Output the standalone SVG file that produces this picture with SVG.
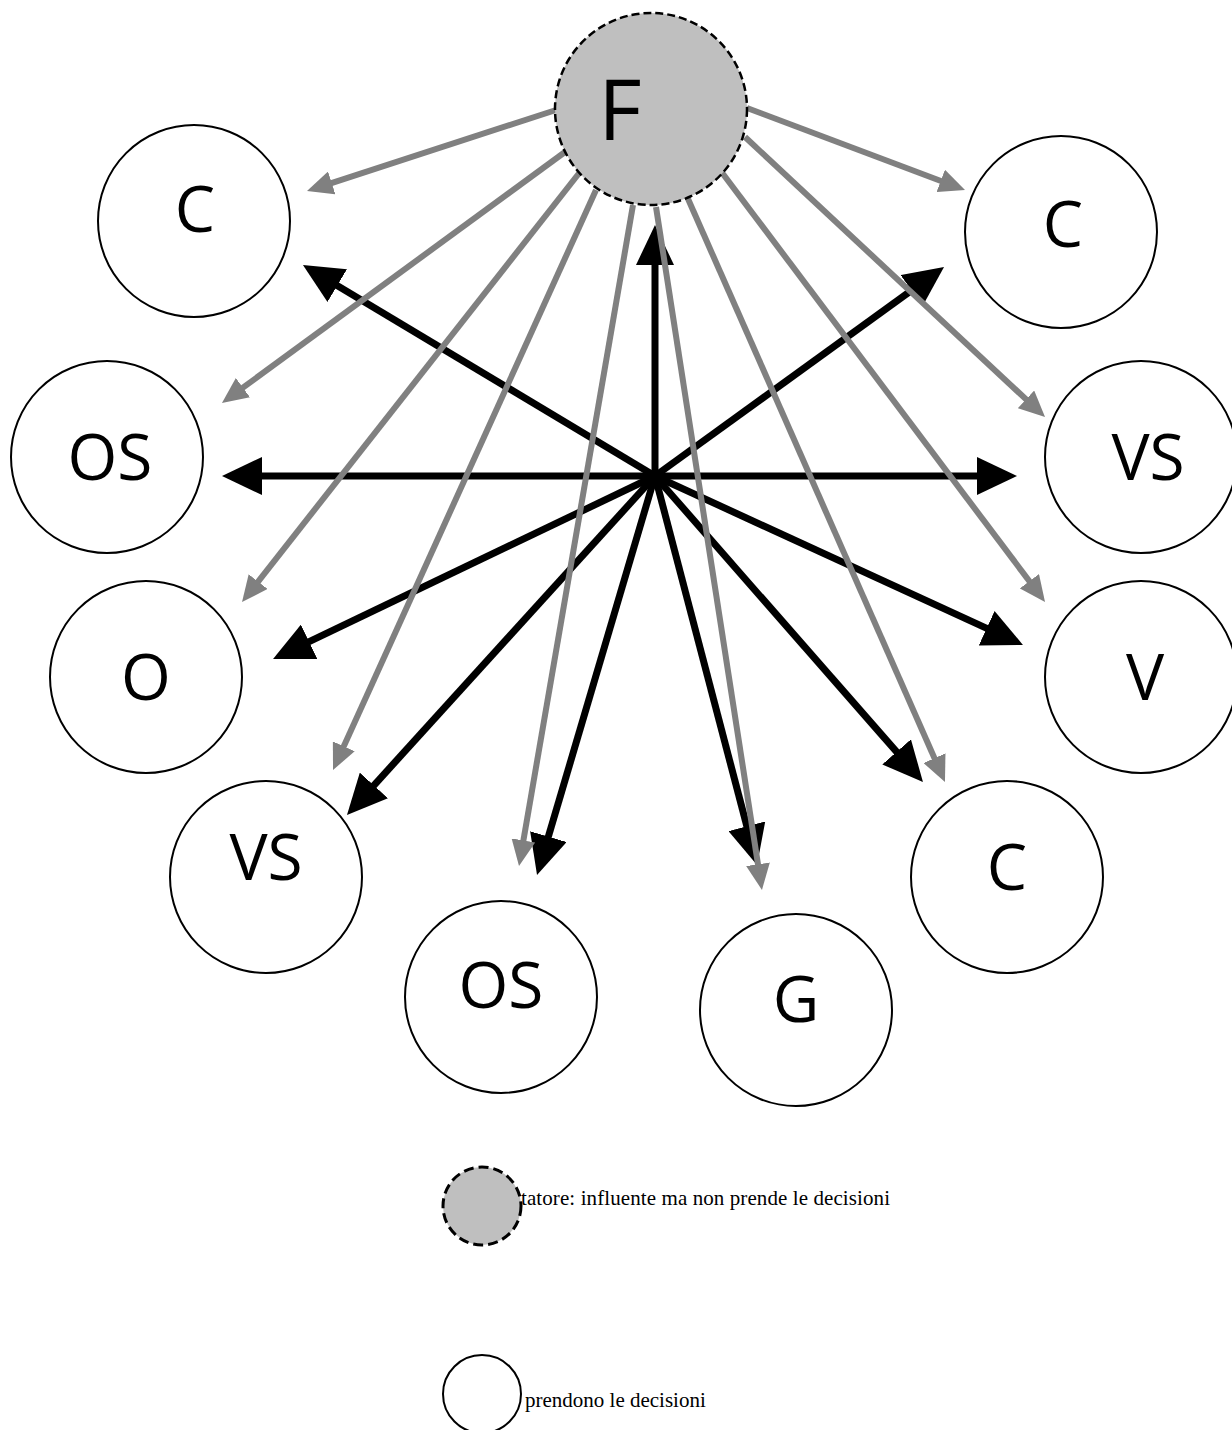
<svg xmlns="http://www.w3.org/2000/svg" width="1232" height="1430" viewBox="0 0 1232 1430">
  <style>
    .node { fill: #ffffff; stroke: #000000; stroke-width: 2; }
    .lead { fill: #bfbfbf; stroke: #000000; stroke-width: 2.5; stroke-dasharray: 8 4; }
    .lbl { font-family: "Open Sans", "Liberation Sans", sans-serif; font-size: 64px; fill: #000000; text-anchor: middle; }
    .big { font-size: 84px; }
    .key { font-family: "Liberation Serif", "Times New Roman", serif; font-size: 21px; fill: #000000; }
    .blk { stroke: #000000; stroke-width: 7; fill: none; marker-end: url(#headBlack); }
    .gry { stroke: #808080; stroke-width: 6; fill: none; marker-end: url(#headGray); }
  </style>
  <defs>
    <marker id="headBlack" markerUnits="userSpaceOnUse" viewBox="0 -19 40 38" markerWidth="40" markerHeight="38" refX="8" refY="0" orient="auto">
      <path d="M0,-19 L40,0 L0,19 z" fill="#000000"/>
    </marker>
    <marker id="headGray" markerUnits="userSpaceOnUse" viewBox="0 -12 26 24" markerWidth="26" markerHeight="24" refX="6" refY="0" orient="auto">
      <path d="M0,-12 L26,0 L0,12 z" fill="#808080"/>
    </marker>
  </defs>

  <!-- decision makers -->
  <g id="node-c-topleft"><circle class="node" cx="194" cy="221" r="96"/><text class="lbl" x="195" y="232">C</text></g>
  <g id="node-c-topright"><circle class="node" cx="1061" cy="232" r="96"/><text class="lbl" x="1063" y="247">C</text></g>
  <g id="node-os-left"><circle class="node" cx="107" cy="457" r="96"/><text class="lbl" x="110" y="480">OS</text></g>
  <g id="node-vs-right"><circle class="node" cx="1141" cy="457" r="96"/><text class="lbl" x="1148" y="480">VS</text></g>
  <g id="node-o"><circle class="node" cx="146" cy="677" r="96"/><text class="lbl" x="146" y="700">O</text></g>
  <g id="node-v"><circle class="node" cx="1141" cy="677" r="96"/><text class="lbl" x="1145" y="700">V</text></g>
  <g id="node-vs-bottomleft"><circle class="node" cx="266" cy="877" r="96"/><text class="lbl" x="266" y="880">VS</text></g>
  <g id="node-c-bottomright"><circle class="node" cx="1007" cy="877" r="96"/><text class="lbl" x="1007" y="890">C</text></g>
  <g id="node-os-bottom"><circle class="node" cx="501" cy="997" r="96"/><text class="lbl" x="501" y="1008">OS</text></g>
  <g id="node-g"><circle class="node" cx="796" cy="1010" r="96"/><text class="lbl" x="796" y="1022">G</text></g>

  <!-- connectors: black from the hub, gray from F -->
  <g id="connectors">
    <g id="hub-arrows">
      <line class="blk" x1="655" y1="476" x2="655" y2="257"/>
      <line class="blk" x1="655" y1="476" x2="330.4" y2="281.5"/>
      <line class="blk" x1="655" y1="476" x2="918.1" y2="285.7"/>
      <line class="blk" x1="655" y1="476" x2="254" y2="476"/>
      <line class="blk" x1="655" y1="476" x2="985" y2="476"/>
      <line class="blk" x1="655" y1="476" x2="301.9" y2="645.2"/>
      <line class="blk" x1="655" y1="476" x2="993.9" y2="631.6"/>
      <line class="blk" x1="655" y1="476" x2="368.5" y2="791.3"/>
      <line class="blk" x1="655" y1="476" x2="901.9" y2="757.9"/>
      <line class="blk" x1="655" y1="476" x2="546.1" y2="844.3"/>
      <line class="blk" x1="655" y1="476" x2="748.9" y2="834.0"/>
    </g>
    <g id="influence-arrows">
      <line class="gry" x1="556" y1="110" x2="326.0" y2="184.8"/>
      <line class="gry" x1="565" y1="152" x2="238.1" y2="391.2"/>
      <line class="gry" x1="580" y1="172" x2="254.4" y2="586.3"/>
      <line class="gry" x1="596" y1="190" x2="341.3" y2="751.8"/>
      <line class="gry" x1="633" y1="205" x2="522.4" y2="846.3"/>
      <line class="gry" x1="656" y1="207" x2="758.9" y2="870.2"/>
      <line class="gry" x1="685" y1="192" x2="936.9" y2="763.7"/>
      <line class="gry" x1="720" y1="170" x2="1033.0" y2="586.0"/>
      <line class="gry" x1="745" y1="137" x2="1030.4" y2="403.4"/>
      <line class="gry" x1="747" y1="108" x2="946.3" y2="183.0"/>
    </g>
  </g>

  <!-- facilitator -->
  <g id="node-f"><circle class="lead" cx="651" cy="109" r="96"/><text class="lbl big" x="620" y="140">F</text></g>

  <!-- key -->
  <g id="key-facilitator">
    <text class="key" x="521" y="1205" textLength="369" lengthAdjust="spacing">tatore: influente ma non prende le decisioni</text>
    <circle cx="482" cy="1206" r="39" fill="#bfbfbf" stroke="#000000" stroke-width="3" stroke-dasharray="10 5"/>
  </g>
  <g id="key-decision">
    <circle cx="482" cy="1394" r="39" fill="#ffffff" stroke="#000000" stroke-width="2"/>
    <text class="key" x="525" y="1407">prendono le decisioni</text>
  </g>
</svg>
